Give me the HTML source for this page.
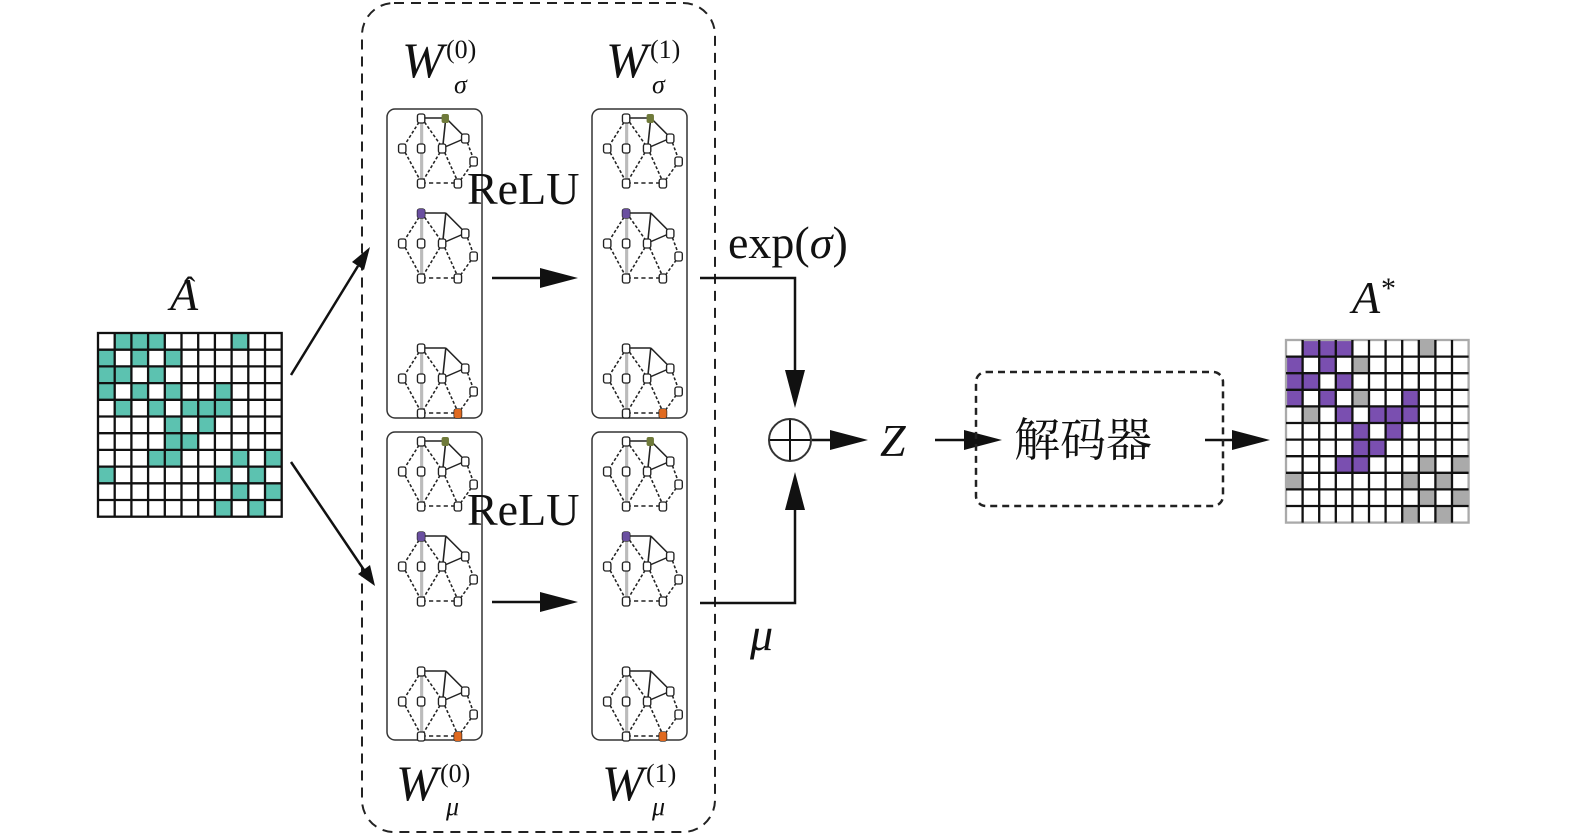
<!DOCTYPE html>
<html><head><meta charset="utf-8"><style>
html,body{margin:0;padding:0;background:#fff}
svg{display:block}
text{font-family:"Liberation Serif","Noto Serif CJK SC",serif;fill:#111}
</style></head><body>
<svg width="1575" height="840" viewBox="0 0 1575 840" xmlns="http://www.w3.org/2000/svg">
<defs>
<g id="sg">
 <g stroke="#222" stroke-width="1.5" fill="none">
  <line x1="33" y1="5" x2="15" y2="35" stroke-dasharray="3 2"/>
  <line x1="33" y1="5" x2="56" y2="5"/>
  <line x1="56" y1="5" x2="53" y2="35"/>
  <line x1="56" y1="5" x2="75" y2="25"/>
  <line x1="15" y1="35" x2="33" y2="70" stroke-dasharray="3 2"/>
  <line x1="33" y1="5" x2="53" y2="35" stroke-dasharray="3 2"/>
  <line x1="53" y1="35" x2="33" y2="70" stroke-dasharray="3 2"/>
  <line x1="53" y1="35" x2="68" y2="70" stroke-dasharray="3 2"/>
  <line x1="53" y1="35" x2="75" y2="25"/>
  <line x1="75" y1="25" x2="83" y2="48" stroke-dasharray="3 2"/>
  <line x1="83" y1="48" x2="68" y2="70" stroke-dasharray="3 2"/>
  <line x1="33" y1="70" x2="68" y2="70" stroke-dasharray="4 3"/>
 </g>
 <line x1="33" y1="5" x2="33" y2="70" stroke="#bbb" stroke-width="3"/>
 <g fill="#fff" stroke="#222" stroke-width="1.3">
  <rect x="29" y="1" width="7" height="9" rx="2"/>
  <rect x="11" y="31" width="7" height="9" rx="2"/>
  <rect x="29" y="31" width="7" height="9" rx="2"/>
  <rect x="49" y="31" width="7" height="9" rx="2"/>
  <rect x="71" y="21" width="7" height="9" rx="2"/>
  <rect x="79" y="44" width="7" height="9" rx="2"/>
  <rect x="64" y="66" width="7" height="9" rx="2"/>
  <rect x="29" y="66" width="7" height="9" rx="2"/>
 </g>
</g>
<g id="col">
 <use href="#sg" x="0" y="0"/>
 <rect x="52" y="1" width="7" height="9" rx="2" fill="#6f7a3a"/>
 <use href="#sg" x="0" y="95"/>
 <rect x="29" y="96" width="7" height="9" rx="2" fill="#6a4fa0"/>
 <use href="#sg" x="0" y="230"/>
 <rect x="64" y="296" width="7" height="9" rx="2" fill="#e06a20"/>
</g>
</defs>

<rect x="362" y="3" width="353" height="829" rx="32" fill="none" stroke="#222" stroke-width="2" stroke-dasharray="10 7"/>

<g fill="none" stroke="#333" stroke-width="1.5">
<rect x="387" y="109" width="95" height="309" rx="8"/>
<rect x="387" y="432" width="95" height="308" rx="8"/>
<rect x="592" y="109" width="95" height="309" rx="8"/>
<rect x="592" y="432" width="95" height="308" rx="8"/>
</g>
<g transform="translate(387,113) scale(1.05,1.0)"><use href="#col"/></g>
<g transform="translate(387,436) scale(1.05,1.0)"><use href="#col"/></g>
<g transform="translate(592,113) scale(1.05,1.0)"><use href="#col"/></g>
<g transform="translate(592,436) scale(1.05,1.0)"><use href="#col"/></g>

<g font-style="italic" font-size="50">
<text x="402" y="77">W</text><text x="606" y="77">W</text>
<text x="396" y="800">W</text><text x="602" y="800">W</text>
</g>
<g font-size="26">
<text x="446" y="58">(0)</text><text x="650" y="58">(1)</text>
<text x="440" y="782">(0)</text><text x="646" y="782">(1)</text>
</g>
<g font-size="26" font-style="italic">
<text x="454" y="93">σ</text><text x="652" y="93">σ</text>
<text x="446" y="815">μ</text><text x="652" y="815">μ</text>
</g>
<text x="467" y="204" font-size="46">ReLU</text>
<text x="467" y="525" font-size="46">ReLU</text>

<g stroke="#111" stroke-width="2.5" fill="none">
<line x1="291" y1="375" x2="358" y2="266"/>
<line x1="291" y1="462" x2="364" y2="570"/>
<line x1="492" y1="278" x2="545" y2="278"/>
<line x1="492" y1="602" x2="545" y2="602"/>
<polyline points="700,278 795,278 795,372"/>
<polyline points="700,603 795,603 795,508"/>
<line x1="812" y1="440" x2="838" y2="440"/>
<line x1="935" y1="440" x2="970" y2="440"/>
<line x1="1205" y1="440" x2="1235" y2="440"/>
</g>
<g fill="#111">
<polygon points="370,247 352,262 364,270"/>
<polygon points="375,586 358,574 370,565"/>
<polygon points="578,278 540,268 540,288"/>
<polygon points="578,602 540,592 540,612"/>
<polygon points="795,408 785,370 805,370"/>
<polygon points="795,472 785,510 805,510"/>
<polygon points="868,440 830,430 830,450"/>
<polygon points="1002,440 964,430 964,450"/>
<polygon points="1270,440 1232,430 1232,450"/>
</g>
<circle cx="790" cy="440" r="21" fill="#fff" stroke="#333" stroke-width="2"/>
<line x1="770" y1="440" x2="810" y2="440" stroke="#111" stroke-width="2"/>
<line x1="790" y1="420" x2="790" y2="460" stroke="#111" stroke-width="2"/>

<text x="728" y="258" font-size="46">exp(<tspan font-style="italic">σ</tspan>)</text>
<text x="750" y="650" font-size="46" font-style="italic">μ</text>
<text x="880" y="456" font-size="46" font-style="italic">Z</text>

<rect x="976" y="372" width="247" height="134" rx="10" fill="none" stroke="#222" stroke-width="2.5" stroke-dasharray="7 5"/>
<text x="1014" y="456" font-size="46" font-family="'Noto Serif CJK SC',serif">解码器</text>

<text x="170" y="310" font-size="46" font-style="italic">A</text>
<text x="184" y="300" font-size="34">ˆ</text>
<text x="1352" y="313" font-size="46" font-style="italic">A</text>
<text x="1381" y="298" font-size="30">*</text>

<g fill="#5cc2b0">
<rect x="114.7" y="333" width="16.7" height="16.7"/><rect x="131.4" y="333" width="16.7" height="16.7"/><rect x="148.1" y="333" width="16.7" height="16.7"/><rect x="231.6" y="333" width="16.7" height="16.7"/>
<rect x="98" y="349.7" width="16.7" height="16.7"/><rect x="131.4" y="349.7" width="16.7" height="16.7"/><rect x="164.8" y="349.7" width="16.7" height="16.7"/>
<rect x="98" y="366.4" width="16.7" height="16.7"/><rect x="114.7" y="366.4" width="16.7" height="16.7"/><rect x="148.1" y="366.4" width="16.7" height="16.7"/>
<rect x="98" y="383.1" width="16.7" height="16.7"/><rect x="131.4" y="383.1" width="16.7" height="16.7"/><rect x="164.8" y="383.1" width="16.7" height="16.7"/><rect x="214.9" y="383.1" width="16.7" height="16.7"/>
<rect x="114.7" y="399.8" width="16.7" height="16.7"/><rect x="148.1" y="399.8" width="16.7" height="16.7"/><rect x="181.5" y="399.8" width="16.7" height="16.7"/><rect x="198.2" y="399.8" width="16.7" height="16.7"/><rect x="214.9" y="399.8" width="16.7" height="16.7"/>
<rect x="164.8" y="416.5" width="16.7" height="16.7"/><rect x="198.2" y="416.5" width="16.7" height="16.7"/>
<rect x="164.8" y="433.2" width="16.7" height="16.7"/><rect x="181.5" y="433.2" width="16.7" height="16.7"/>
<rect x="148.1" y="449.9" width="16.7" height="16.7"/><rect x="164.8" y="449.9" width="16.7" height="16.7"/><rect x="231.6" y="449.9" width="16.7" height="16.7"/><rect x="265" y="449.9" width="16.7" height="16.7"/>
<rect x="98" y="466.6" width="16.7" height="16.7"/><rect x="214.9" y="466.6" width="16.7" height="16.7"/><rect x="248.3" y="466.6" width="16.7" height="16.7"/>
<rect x="231.6" y="483.3" width="16.7" height="16.7"/><rect x="265" y="483.3" width="16.7" height="16.7"/>
<rect x="214.9" y="500" width="16.7" height="16.7"/><rect x="248.3" y="500" width="16.7" height="16.7"/>
</g>
<g stroke="#111" stroke-width="2.3" fill="none">
<rect x="98" y="333" width="183.7" height="183.7"/>
<path d="M114.7 333V516.7M131.4 333V516.7M148.1 333V516.7M164.8 333V516.7M181.5 333V516.7M198.2 333V516.7M214.9 333V516.7M231.6 333V516.7M248.3 333V516.7M265 333V516.7
M98 349.7H281.7M98 366.4H281.7M98 383.1H281.7M98 399.8H281.7M98 416.5H281.7M98 433.2H281.7M98 449.9H281.7M98 466.6H281.7M98 483.3H281.7M98 500H281.7"/>
</g>

<g transform="translate(1286,340)">
<g fill="#7a4fb0">
<rect x="16.6" y="0" width="16.6" height="16.6"/><rect x="33.2" y="0" width="16.6" height="16.6"/><rect x="49.8" y="0" width="16.6" height="16.6"/>
<rect x="0" y="16.6" width="16.6" height="16.6"/><rect x="33.2" y="16.6" width="16.6" height="16.6"/>
<rect x="0" y="33.2" width="16.6" height="16.6"/><rect x="16.6" y="33.2" width="16.6" height="16.6"/><rect x="49.8" y="33.2" width="16.6" height="16.6"/>
<rect x="0" y="49.8" width="16.6" height="16.6"/><rect x="33.2" y="49.8" width="16.6" height="16.6"/><rect x="116.2" y="49.8" width="16.6" height="16.6"/>
<rect x="49.8" y="66.4" width="16.6" height="16.6"/><rect x="83" y="66.4" width="16.6" height="16.6"/><rect x="99.6" y="66.4" width="16.6" height="16.6"/><rect x="116.2" y="66.4" width="16.6" height="16.6"/>
<rect x="66.4" y="83" width="16.6" height="16.6"/><rect x="99.6" y="83" width="16.6" height="16.6"/>
<rect x="66.4" y="99.6" width="16.6" height="16.6"/><rect x="83" y="99.6" width="16.6" height="16.6"/>
<rect x="49.8" y="116.2" width="16.6" height="16.6"/><rect x="66.4" y="116.2" width="16.6" height="16.6"/>
</g>
<g fill="#aaa">
<rect x="132.8" y="0" width="16.6" height="16.6"/><rect x="66.4" y="16.6" width="16.6" height="16.6"/><rect x="66.4" y="49.8" width="16.6" height="16.6"/><rect x="16.6" y="66.4" width="16.6" height="16.6"/>
<rect x="132.8" y="116.2" width="16.6" height="16.6"/><rect x="166" y="116.2" width="16.6" height="16.6"/>
<rect x="0" y="132.8" width="16.6" height="16.6"/><rect x="116.2" y="132.8" width="16.6" height="16.6"/><rect x="149.4" y="132.8" width="16.6" height="16.6"/>
<rect x="132.8" y="149.4" width="16.6" height="16.6"/><rect x="166" y="149.4" width="16.6" height="16.6"/>
<rect x="116.2" y="166" width="16.6" height="16.6"/><rect x="149.4" y="166" width="16.6" height="16.6"/>
</g>
<g stroke="#111" stroke-width="2.3" fill="none">
<rect x="0" y="0" width="182.6" height="182.6" stroke="#aaa"/>
<path d="M16.6 0V182.6M33.2 0V182.6M49.8 0V182.6M66.4 0V182.6M83 0V182.6M99.6 0V182.6M116.2 0V182.6M132.8 0V182.6M149.4 0V182.6M166 0V182.6
M0 16.6H182.6M0 33.2H182.6M0 49.8H182.6M0 66.4H182.6M0 83H182.6M0 99.6H182.6M0 116.2H182.6M0 132.8H182.6M0 149.4H182.6M0 166H182.6"/>
</g>
</g>
</svg>
</body></html>
